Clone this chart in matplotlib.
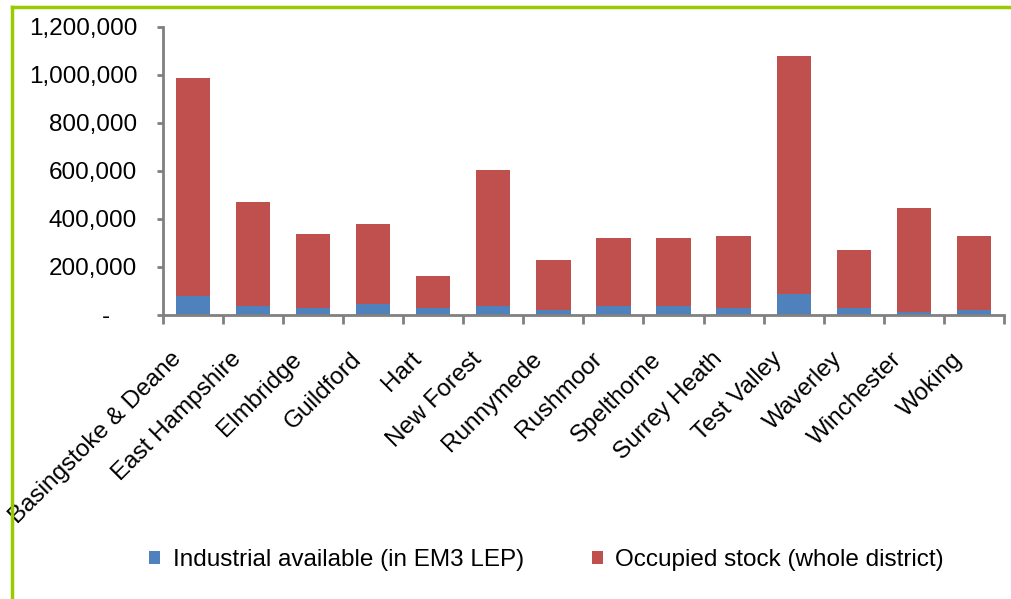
import numpy as np
import matplotlib
matplotlib.use("Agg")
import matplotlib.pyplot as plt
from matplotlib.lines import Line2D
from matplotlib.ticker import FuncFormatter
from matplotlib.transforms import ScaledTranslation

plt.rcParams['font.family'] = ['Liberation Sans', 'DejaVu Sans']

districts = ['Basingstoke & Deane', 'East Hampshire', 'Elmbridge', 'Guildford', 'Hart',
             'New Forest', 'Runnymede', 'Rushmoor', 'Spelthorne', 'Surrey Heath',
             'Test Valley', 'Waverley', 'Winchester', 'Woking']
# Industrial available (in EM3 LEP)
available = [78000, 36000, 28000, 44000, 28000, 36000, 19000,
             36000, 36000, 28000, 86000, 28000, 11000, 19000]
# bar totals
totals = [986000, 470000, 336000, 378000, 161000, 603000, 228000,
          320000, 320000, 328000, 1078000, 270000, 445000, 328000]
occupied = [t - a for t, a in zip(totals, available)]

fig = plt.figure(figsize=(10.12, 5.99), dpi=100)
ax = fig.add_axes([0.161, 0.4746, 0.831, 0.4804])

x = np.arange(len(districts))
ax.bar(x, available, width=0.57, color='#4F81BD', label='Industrial available (in EM3 LEP)')
ax.bar(x, occupied, width=0.57, bottom=available, color='#C0504D',
       label='Occupied stock (whole district)')

ax.set_xlim(-0.5, len(districts) - 0.5)
ax.set_ylim(0, 1200000)
ax.set_yticks(np.arange(0, 1200001, 200000))
ax.yaxis.set_major_formatter(FuncFormatter(lambda v, p: '-    ' if v == 0 else f'{v:,.0f}'))

ax.set_xticks(x)
ax.set_xticklabels(districts, rotation=45, ha='right', va='center', rotation_mode='anchor')
ax.set_xticks(np.arange(-0.5, len(districts)), minor=True)
ax.tick_params(axis='x', which='major', length=0, pad=26, labelsize=17.5)
ax.tick_params(axis='x', which='minor', length=6.5, width=2, color='#808080', direction='out')
ax.tick_params(axis='y', length=4.5, width=2, color='#808080', pad=14, labelsize=17.5)

# nudge the rotated names a little left and down
shift = ScaledTranslation(-0.15, -0.05, fig.dpi_scale_trans)
for lab in ax.get_xticklabels():
    lab.set_transform(lab.get_transform() + shift)

for s in ['top', 'right']:
    ax.spines[s].set_visible(False)
for s in ['left', 'bottom']:
    ax.spines[s].set_color('#808080')
    ax.spines[s].set_linewidth(2)

fig.legend(loc='center', bbox_to_anchor=(0.54, 1 - 560 / 599), ncol=2, frameon=False,
           fontsize=17.5, handlelength=0.45, handleheight=0.45, handletextpad=0.5,
           columnspacing=2.8)

# green chart-area border (only left and top edges are inside the picture)
bx, by = 12 / 1012, 1 - 7 / 599
fig.lines.append(Line2D([bx, bx], [0, by], transform=fig.transFigure,
                        color='#99CC00', linewidth=2.5))
fig.lines.append(Line2D([bx, 1], [by, by], transform=fig.transFigure,
                        color='#99CC00', linewidth=2.5))

fig.savefig('out.png', dpi=100)
